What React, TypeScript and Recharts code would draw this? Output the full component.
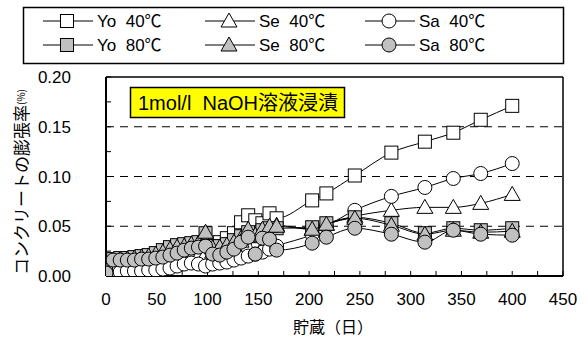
import React from "react";
import { ScatterChart, Scatter, XAxis, YAxis, ReferenceLine } from "recharts";

// measurement days (shared by all six series)
const days = [0, 7, 14, 21, 28, 35, 42, 49, 56, 63, 70, 77, 84, 91, 98, 105, 112, 119, 126, 133, 140, 147, 154, 161, 168, 203, 217, 245, 281, 314, 342, 369, 400];

const yo40 = [0.002, 0.006, 0.007, 0.008, 0.009, 0.010, 0.012, 0.014, 0.016, 0.018, 0.020, 0.022, 0.024, 0.026, 0.028, 0.031, 0.034, 0.038, 0.043, 0.054, 0.061, 0.056, 0.053, 0.063, 0.058, 0.076, 0.083, 0.101, 0.124, 0.135, 0.144, 0.157, 0.171];
const se40 = [0.002, 0.005, 0.006, 0.006, 0.007, 0.008, 0.009, 0.010, 0.011, 0.013, 0.014, 0.016, 0.018, 0.020, 0.022, 0.024, 0.026, 0.028, 0.031, 0.035, 0.040, 0.043, 0.046, 0.049, 0.051, 0.047, 0.052, 0.060, 0.066, 0.069, 0.069, 0.073, 0.082];
const sa40 = [0.002, 0.004, 0.004, 0.005, 0.005, 0.005, 0.006, 0.006, 0.007, 0.008, 0.010, 0.012, 0.013, 0.012, 0.010, 0.012, 0.013, 0.014, 0.016, 0.018, 0.020, 0.022, 0.024, 0.027, 0.030, 0.042, 0.050, 0.066, 0.080, 0.089, 0.098, 0.103, 0.113];
const yo80 = [0.004, 0.017, 0.018, 0.018, 0.019, 0.020, 0.021, 0.023, 0.026, 0.029, 0.031, 0.032, 0.033, 0.034, 0.043, 0.030, 0.030, 0.032, 0.036, 0.040, 0.044, 0.040, 0.046, 0.048, 0.048, 0.049, 0.053, 0.059, 0.053, 0.043, 0.048, 0.046, 0.048];
const se80 = [0.004, 0.016, 0.017, 0.017, 0.018, 0.019, 0.020, 0.022, 0.024, 0.027, 0.029, 0.030, 0.032, 0.033, 0.044, 0.028, 0.029, 0.031, 0.034, 0.038, 0.047, 0.041, 0.047, 0.050, 0.050, 0.047, 0.052, 0.058, 0.051, 0.042, 0.046, 0.044, 0.045];
const sa80 = [0.003, 0.016, 0.016, 0.016, 0.016, 0.017, 0.017, 0.018, 0.019, 0.021, 0.023, 0.026, 0.028, 0.029, 0.030, 0.022, 0.021, 0.024, 0.027, 0.034, 0.039, 0.022, 0.038, 0.037, 0.026, 0.033, 0.039, 0.048, 0.042, 0.034, 0.046, 0.042, 0.041];

const xTicks = [0, 25, 50, 75, 100, 125, 150, 175, 200, 225, 250, 275, 300, 325, 350, 375, 400, 425, 450];
const yTicks = [0, 0.025, 0.05, 0.075, 0.1, 0.125, 0.15, 0.175, 0.2];
const gridLines = [0.05, 0.1, 0.15];

const GRAY = "#c0c0c0";
const LATIN = "'Liberation Sans', Arial, 'Noto Sans CJK JP', sans-serif";
const JP = "'Noto Sans CJK JP', sans-serif";

const toPts = (vals: number[]) => vals.map((v, i) => ({ d: days[i], v }));

type Kind = "square" | "triangle" | "circle";

function Marker({ cx, cy, kind, fill }: { cx: number; cy: number; kind: Kind; fill: string }) {
  if (kind === "square")
    return <rect x={cx - 6.5} y={cy - 6.5} width={13} height={13} fill={fill} stroke="#000" strokeWidth={1} />;
  if (kind === "triangle")
    return <polygon points={`${cx},${cy - 8} ${cx - 8},${cy + 6} ${cx + 8},${cy + 6}`} fill={fill} stroke="#000" strokeWidth={1} />;
  return <circle cx={cx} cy={cy} r={7} fill={fill} stroke="#000" strokeWidth={1} />;
}

const series = [
  { name: "Yo  40℃", data: yo40, kind: "square" as Kind, fill: "#fff" },
  { name: "Se  40℃", data: se40, kind: "triangle" as Kind, fill: "#fff" },
  { name: "Sa  40℃", data: sa40, kind: "circle" as Kind, fill: "#fff" },
  { name: "Yo  80℃", data: yo80, kind: "square" as Kind, fill: GRAY },
  { name: "Se  80℃", data: se80, kind: "triangle" as Kind, fill: GRAY },
  { name: "Sa  80℃", data: sa80, kind: "circle" as Kind, fill: GRAY },
];

function Legend() {
  const cols = [43, 205, 365];
  const rows = [21, 45];
  return (
    <g>
      <rect x={23.5} y={7.5} width={540} height={56} fill="#fff" stroke="#000" strokeWidth={1.5} />
      {series.map((s, i) => {
        const x = cols[i % 3];
        const y = rows[Math.floor(i / 3)];
        return (
          <g key={s.name}>
            <line x1={x} x2={x + 50} y1={y} y2={y} stroke="#000" strokeWidth={1} />
            <Marker cx={x + 24} cy={y} kind={s.kind} fill={s.fill} />
            <text x={x + 54} y={y} dominantBaseline="central" fontSize={17} fontFamily={LATIN} style={{ whiteSpace: "pre" }}>
              {s.name}
            </text>
          </g>
        );
      })}
    </g>
  );
}

export default function App() {
  return (
    <div style={{ position: "absolute", left: 0, top: 0, width: 588, height: 343, background: "#fff" }}>
      <ScatterChart width={588} height={343} margin={{ top: 77, right: 25, bottom: 37, left: 46 }}>
        <XAxis
          type="number"
          dataKey="d"
          domain={[0, 450]}
          ticks={xTicks}
          interval={0}
          allowDataOverflow
          tickFormatter={(v: number) => (v % 50 === 0 ? String(v) : "")}
          tick={{ fill: "#000", fontSize: 17, fontFamily: LATIN }}
          tickSize={-5}
          tickMargin={22}
          tickLine={{ stroke: "#000" }}
          axisLine={{ stroke: "#000", strokeWidth: 2 }}
          height={30}
        />
        <YAxis
          type="number"
          dataKey="v"
          domain={[0, 0.2]}
          ticks={yTicks}
          interval={0}
          allowDataOverflow
          tickFormatter={(v: number) => (Math.round(v * 1000) % 50 === 0 ? v.toFixed(2) : "")}
          tick={{ fill: "#000", fontSize: 17, fontFamily: LATIN }}
          tickSize={-5}
          tickMargin={40}
          tickLine={{ stroke: "#000" }}
          axisLine={{ stroke: "#000", strokeWidth: 2 }}
          width={60}
        />
        {gridLines.map((g) => (
          <ReferenceLine key={g} y={g} stroke="#000" strokeWidth={1} strokeDasharray="8 6" />
        ))}
        <ReferenceLine y={0.2} stroke="#000" strokeWidth={1.5} />
        <ReferenceLine x={450} stroke="#000" strokeWidth={1.5} />
        {series.map((s) => (
          <Scatter
            key={s.name}
            name={s.name}
            data={toPts(s.data)}
            line={{ stroke: "#000", strokeWidth: 1 }}
            lineJointType="monotoneX"
            isAnimationActive={false}
            shape={(p: any) => <Marker cx={p.cx} cy={p.cy} kind={s.kind} fill={s.fill} />}
          />
        ))}
      </ScatterChart>
      <svg width={588} height={343} style={{ position: "absolute", left: 0, top: 0, pointerEvents: "none" }}>
        <Legend />
        <rect x={130.5} y={87.5} width={214} height={30} fill="#ffff00" stroke="#000" strokeWidth={1.5} />
        <text x={138} y={103} dominantBaseline="central" fontSize={20} fontFamily={LATIN} style={{ whiteSpace: "pre" }}>
          1mol/l  NaOH溶液浸漬
        </text>
        <text
          transform="rotate(-90)"
          x={-182}
          y={20}
          textAnchor="middle"
          dominantBaseline="central"
          fontSize={17}
          fontFamily={JP}
        >
          コンクリートの膨張率<tspan fontSize={10}>(%)</tspan>
        </text>
        <text x={333} y={326} textAnchor="middle" dominantBaseline="central" fontSize={16} fontFamily={JP}>
          貯蔵（日）
        </text>
      </svg>
    </div>
  );
}
